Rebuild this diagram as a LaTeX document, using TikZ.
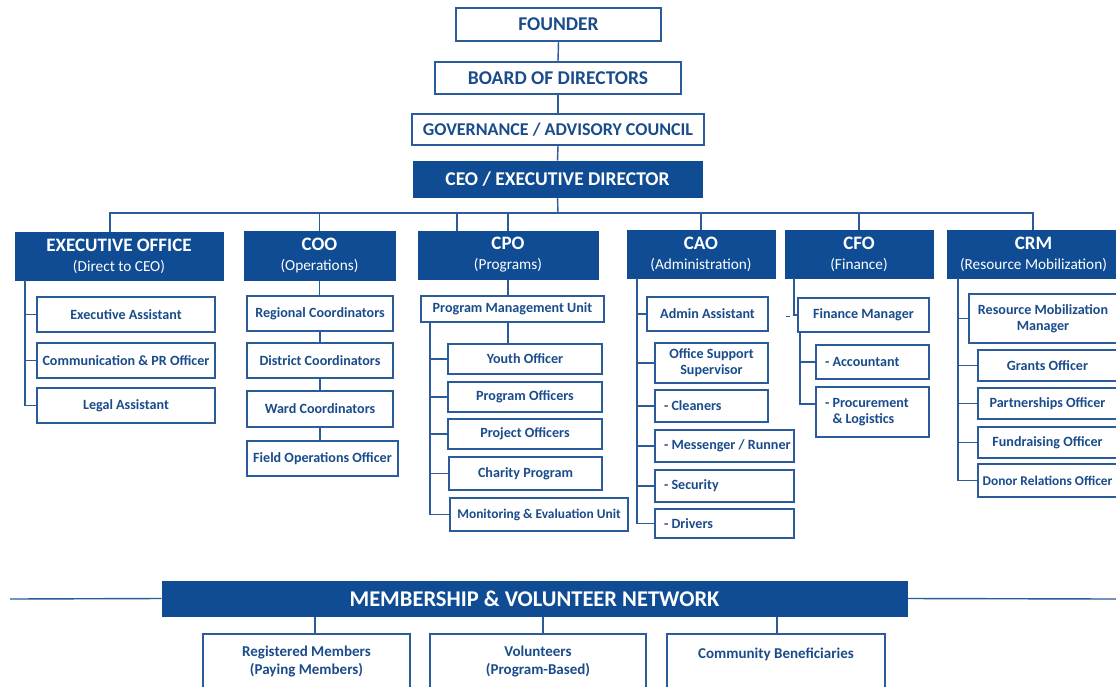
\documentclass[tikz,border=0pt]{standalone}
\usepackage{fontspec}
\setmainfont{Carlito}
\definecolor{navy}{HTML}{0F4C94}
\definecolor{tblue}{HTML}{1A4C8C}
\definecolor{lblue}{HTML}{2A5C9C}
\newcommand\mybox[7]{%
  \pgfmathsetmacro\cxx{(#3+#5)/2}\pgfmathsetmacro\cyy{(#4+#6)/2}%
  \pgfmathsetmacro\ww{#5-#3}\pgfmathsetmacro\hh{#6-#4}%
  \node[#2,minimum width=\ww pt,minimum height=\hh pt] (#1) at (\cxx,\cyy) {#7};}
\newcommand\hdr[2]{\raisebox{-2pt}{\fontsize{19}{20}\selectfont\bfseries #1}\\\raisebox{-2pt}{\fontsize{15.3}{20}\selectfont #2}}
\newcommand\lft[2]{\makebox[#1pt][l]{#2}}
\tikzset{
  wbox/.style={draw=lblue, line width=1.4pt, fill=white, text=tblue, inner sep=0pt, align=center,
    font=\bfseries\fontsize{14.1}{16}\selectfont},
  smallbox/.style={wbox, font=\bfseries\fontsize{13.4}{16}\selectfont},
  topbox/.style={wbox, font=\bfseries\fontsize{19.5}{21}\selectfont},
  nbox/.style={draw=navy, line width=1pt, fill=navy, text=white, inner sep=0pt, align=center,
    font=\fontsize{15.3}{20}\selectfont},
  conn/.style={draw=lblue, line width=1.4pt},
  btext/.style={text=tblue, inner sep=0pt, align=center, font=\bfseries\fontsize{15}{18}\selectfont},
}
\begin{document}
\begin{tikzpicture}[x=1pt,y=-1pt]
\useasboundingbox (0,0) rectangle (1116,686);
\fill[white] (0,0) rectangle (1116,686);
\clip (0,0) rectangle (1116,686);

% top chain
\mybox{founder}{topbox}{456}{8}{661}{41}{FOUNDER}
\mybox{board}{topbox}{435}{62}{681}{94}{BOARD OF DIRECTORS}
\mybox{gov}{topbox,font=\bfseries\fontsize{18}{20}\selectfont}{412}{114}{704}{145}{GOVERNANCE / ADVISORY COUNCIL}
\mybox{ceo}{nbox,font=\bfseries\fontsize{19.5}{21}\selectfont}{413}{161}{702}{197}{CEO / EXECUTIVE DIRECTOR}
\draw[conn] (founder.south) -- (board.north);
\draw[conn] (board.south) -- (gov.north);
\draw[conn] (gov.south) -- (ceo.north);

% headers
\mybox{exec}{nbox}{15}{232}{223}{280}{\hdr{EXECUTIVE OFFICE}{(Direct to CEO)}}
\mybox{coo}{nbox}{244}{231}{395}{280}{\hdr{COO}{(Operations)}}
\mybox{cpo}{nbox}{418}{231}{598}{279}{\hdr{CPO}{(Programs)}}
\mybox{cao}{nbox}{627}{230}{775}{278}{\hdr{CAO}{(Administration)}}
\mybox{cfo}{nbox}{785}{230}{933}{278}{\hdr{CFO}{(Finance)}}
\mybox{crm}{nbox}{947}{230}{1120}{278}{\hdr{CRM}{(Resource Mobilization)}}

\coordinate (bus) at (558,213);
\draw[conn] (ceo.south) -- (bus);
\draw[conn] ([xshift=-9pt]exec.north) |- (bus);
\draw[conn] ([xshift=-0.5pt]crm.north) |- (bus);
\draw[conn] (coo.north) -- (coo.north |- bus);
\draw[conn] ([xshift=-51pt]cpo.north) -- ([xshift=-51pt]cpo.north |- bus);
\draw[conn] (cpo.north) -- (cpo.north |- bus);
\draw[conn] (cao.north) -- (cao.north |- bus);
\draw[conn] (cfo.north) -- (cfo.north |- bus);

% executive office
\mybox{ea}{wbox}{37}{297}{215}{332}{Executive Assistant}
\mybox{comm}{wbox}{37}{343}{215}{378}{Communication \& PR Officer}
\mybox{legal}{wbox}{37}{388}{215}{423}{Legal Assistant}
\coordinate (es) at (25,280);
\draw[conn] (es) |- (legal.west);
\draw[conn] (es |- ea.west) -- (ea.west);
\draw[conn] (es |- comm.west) -- (comm.west);

% COO
\mybox{reg}{wbox}{247}{296}{393}{331}{Regional Coordinators}
\mybox{dist}{wbox}{247}{343}{393}{378}{District Coordinators}
\mybox{ward}{wbox}{247}{391}{393}{427}{Ward Coordinators}
\mybox{field}{wbox}{247}{441}{398}{476}{Field Operations Officer}
\draw[conn] (coo.south) -- (coo.south |- reg.north);
\draw[conn] (reg.south) -- (dist.north);
\draw[conn] (dist.south) -- (ward.north);
\draw[conn] (ward.south) -- (ward.south |- field.north);

% CPO
\mybox{pmu}{wbox}{421}{296}{604}{322}{Program Management Unit}
\mybox{youth}{wbox}{448}{344}{602}{374}{Youth Officer}
\mybox{progoff}{wbox}{448}{382}{602}{412}{Program Officers}
\mybox{projoff}{wbox}{448}{419}{602}{449}{Project Officers}
\mybox{charity}{wbox}{449}{457}{602}{490}{Charity Program}
\mybox{me}{smallbox}{450}{498}{628}{531}{Monitoring \& Evaluation Unit}
\draw[conn] (cpo.south) -- (cpo.south |- pmu.north);
\draw[conn] (cpo.south |- pmu.south) -- (cpo.south |- youth.north);
\coordinate (ps) at (430,322);
\draw[conn] (ps) |- (me.west);
\draw[conn] (ps |- youth.west) -- (youth.west);
\draw[conn] (ps |- progoff.west) -- (progoff.west);
\draw[conn] (ps |- projoff.west) -- (projoff.west);
\draw[conn] (ps |- charity.west) -- (charity.west);

% CAO
\mybox{admin}{wbox}{647}{297}{768}{331}{Admin Assistant}
\mybox{oss}{wbox}{655}{343}{768}{383}{Office Support\\Supervisor}
\mybox{clean}{wbox}{655}{390}{768}{422}{\lft{95}{- Cleaners}}
\mybox{mess}{wbox}{655}{430}{794}{462}{\lft{121}{- Messenger / Runner}}
\mybox{sec}{wbox}{655}{470}{794}{502}{\lft{121}{- Security}}
\mybox{drv}{wbox}{655}{509}{794}{538}{\lft{121}{- Drivers}}
\coordinate (as) at (637,278);
\draw[conn] (as) |- (drv.west);
\draw[conn] (as |- admin.west) -- (admin.west);
\draw[conn] (as |- oss.west) -- (oss.west);
\draw[conn] (as |- clean.west) -- (clean.west);
\draw[conn] (as |- mess.west) -- (mess.west);
\draw[conn] (as |- sec.west) -- (sec.west);

% CFO
\mybox{fm}{wbox}{798}{298}{929}{332}{Finance Manager}
\mybox{acct}{wbox}{816}{345}{929}{379}{\lft{95}{- Accountant}}
\mybox{proc}{wbox}{816}{387}{929}{437}{\lft{95}{\begin{tabular}{@{}l@{}}- Procurement\\\hphantom{- }\& Logistics\end{tabular}}}
\coordinate (fs) at (794,278);
\draw[conn] (fs) |- (fm.west);
\coordinate (fd) at (786,316);
\draw[conn,line width=1pt] (fd) -- ++(4,0);
\coordinate (fs2) at (800,332);
\draw[conn] (fs2) |- ([yshift=8pt]proc.west);
\draw[conn] (fs2 |- acct.west) -- (acct.west);

% CRM
\mybox{rmm}{wbox}{969}{294}{1117}{343}{Resource Mobilization\\Manager}
\mybox{grants}{wbox}{978}{350}{1117}{381}{Grants Officer}
\mybox{partner}{wbox}{978}{388}{1117}{419}{Partnerships Officer}
\mybox{fund}{wbox}{978}{427}{1117}{458}{Fundraising Officer}
\mybox{donor}{smallbox}{978}{464}{1117}{497}{Donor Relations Officer}
\coordinate (cs) at (958,278);
\draw[conn] (cs) |- (donor.west);
\draw[conn] (cs |- rmm.west) -- (rmm.west);
\draw[conn] (cs |- grants.west) -- (grants.west);
\draw[conn] (cs |- partner.west) -- (partner.west);
\draw[conn] (cs |- fund.west) -- (fund.west);

% membership
\mybox{mem}{nbox,font=\bfseries\fontsize{22.5}{24}\selectfont}{162}{581}{907}{616}{MEMBERSHIP \& VOLUNTEER NETWORK}
\coordinate (ml) at (10,599);
\coordinate (mr) at (1116,599);
\draw[conn] (ml) -- (mem.west);
\draw[conn] (mem.east) -- (mr);
\mybox{regm}{wbox}{203}{634}{410}{700}{}
\mybox{vol}{wbox}{430}{634}{646}{700}{}
\mybox{cben}{wbox}{667}{634}{885}{700}{}
\node[btext] (regmt) at (306.5,661) {Registered Members\\(Paying Members)};
\node[btext] (volt) at (538,661) {Volunteers\\(Program-Based)};
\node[btext] (cbent) at (776,654) {Community Beneficiaries};
\draw[conn] ([xshift=8.5pt]regm.north) -- ([xshift=8.5pt]regm.north |- mem.south);
\draw[conn] ([xshift=5pt]vol.north) -- ([xshift=5pt]vol.north |- mem.south);
\draw[conn] ([xshift=1pt]cben.north) -- ([xshift=1pt]cben.north |- mem.south);
\end{tikzpicture}
\end{document}
